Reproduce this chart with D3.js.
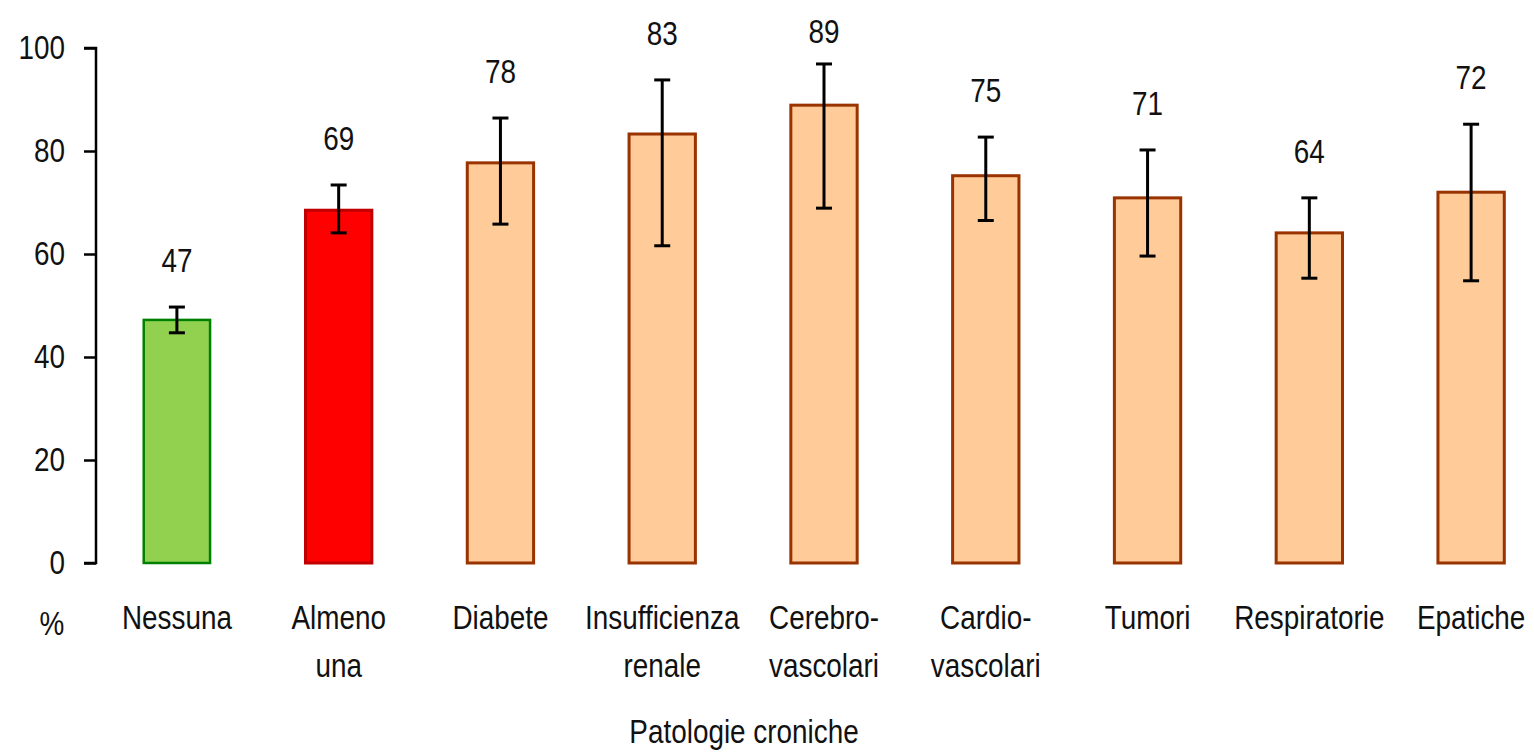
<!DOCTYPE html>
<html>
<head>
<meta charset="utf-8">
<script src="https://cdn.jsdelivr.net/npm/d3@7"></script>
<style>
  body { margin: 0; background: #fff; }
  text { font-family: "Liberation Sans", Arial, sans-serif; fill: #111; }
</style>
</head>
<body>
<div id="chart"></div>
<script>
const categories = [
    ["Nessuna"], ["Almeno", "una"], ["Diabete"], ["Insufficienza", "renale"],
    ["Cerebro-", "vascolari"], ["Cardio-", "vascolari"], ["Tumori"], ["Respiratorie"], ["Epatiche"]
];
const values = [47.2, 68.5, 77.7, 83.3, 88.9, 75.2, 70.9, 64.1, 72.0];
const valueLabels = ["47", "69", "78", "83", "89", "75", "71", "64", "72"];
const errLow = [44.7, 64.1, 65.8, 61.6, 68.9, 66.5, 59.6, 55.3, 54.8];
const errHigh = [49.7, 73.4, 86.4, 93.8, 96.9, 82.7, 80.2, 70.9, 85.2];
const yTicks = [0, 20, 40, 60, 80, 100];
const fills = ["#92d050", "#ff0000", "#ffcc99", "#ffcc99", "#ffcc99", "#ffcc99", "#ffcc99", "#ffcc99", "#ffcc99"];
const strokes = ["#008000", "#c00000", "#993300", "#993300", "#993300", "#993300", "#993300", "#993300", "#993300"];

const W = 1534, H = 752;
const margin = {top: 48, left: 96};
const plotRight = 1552;
const plotBottom = 563;
const squeeze = 0.82; // narrow the font, like a condensed face

const svg = d3.select("#chart")
    .append("svg")
    .attr("width", W)
    .attr("height", H);

const data = categories.map((c, i) => ({
    i: i, cat: c, value: values[i], label: valueLabels[i],
    lo: errLow[i], hi: errHigh[i], fill: fills[i], stroke: strokes[i]
}));

const x = d3.scaleBand()
    .domain(d3.range(categories.length))
    .range([margin.left, plotRight])
    .paddingInner(0.59)
    .paddingOuter(0.295);

const y = d3.scaleLinear().domain([0, 100]).range([plotBottom, margin.top]);

// y axis
const yAxis = svg.append("g")
    .attr("transform", `translate(${margin.left},0)`)
    .call(d3.axisLeft(y).tickValues(yTicks).tickSize(12));
yAxis.select(".domain").attr("stroke", "#000").attr("stroke-width", 2.5)
    .attr("d", `M-12,${y(100)}H0V${y(0)}H-12`);
yAxis.selectAll(".tick line").attr("stroke", "#000").attr("stroke-width", 2.5);
yAxis.selectAll(".tick text")
    .style("font-size", "34px").attr("fill", "#111")
    .attr("x", -31 / squeeze)
    .attr("transform", `scale(${squeeze},1)`);

// bars
svg.selectAll(".bar")
    .data(data)
    .enter().append("rect")
    .attr("class", "bar")
    .attr("x", d => x(d.i))
    .attr("width", x.bandwidth())
    .attr("y", d => y(d.value))
    .attr("height", d => y(0) - y(d.value))
    .style("fill", d => d.fill)
    .style("stroke", d => d.stroke)
    .style("stroke-width", d => d.i === 0 ? 2.5 : 3);

// error bars
const cx = d => x(d.i) + x.bandwidth() / 2;
const err = svg.selectAll(".err").data(data).enter().append("g").attr("class", "err")
    .attr("stroke", "#000").attr("stroke-width", 3);
err.append("line")
    .attr("x1", cx).attr("x2", cx)
    .attr("y1", d => y(d.lo)).attr("y2", d => y(d.hi));
err.append("line")
    .attr("x1", d => cx(d) - 8).attr("x2", d => cx(d) + 8)
    .attr("y1", d => y(d.hi)).attr("y2", d => y(d.hi));
err.append("line")
    .attr("x1", d => cx(d) - 8).attr("x2", d => cx(d) + 8)
    .attr("y1", d => y(d.lo)).attr("y2", d => y(d.lo));

// value labels
svg.selectAll(".vlabel")
    .data(data)
    .enter().append("text")
    .attr("class", "vlabel")
    .attr("transform", d => `translate(${cx(d)},${Math.max(y(d.hi) - 47, 31)}) scale(${squeeze},1)`)
    .attr("dy", "0.35em")
    .attr("text-anchor", "middle")
    .style("font-size", "34px")
    .text(d => d.label);

// category labels
const catText = svg.selectAll(".cat")
    .data(data)
    .enter().append("text")
    .attr("class", "cat")
    .attr("text-anchor", "middle")
    .style("font-size", "34px")
    .attr("transform", d => `translate(${cx(d)},629) scale(${squeeze},1)`);
catText.selectAll("tspan")
    .data(d => d.cat)
    .enter().append("tspan")
    .attr("x", 0)
    .attr("y", (t, j) => j * 48)
    .text(t => t);

svg.append("text")
    .attr("transform", `translate(52,635) scale(${squeeze},1)`)
    .attr("text-anchor", "middle")
    .style("font-size", "34px")
    .text("%");

svg.append("text")
    .attr("transform", `translate(744,743) scale(${squeeze},1)`)
    .attr("text-anchor", "middle")
    .style("font-size", "34px")
    .text("Patologie croniche");
</script>
</body>
</html>
